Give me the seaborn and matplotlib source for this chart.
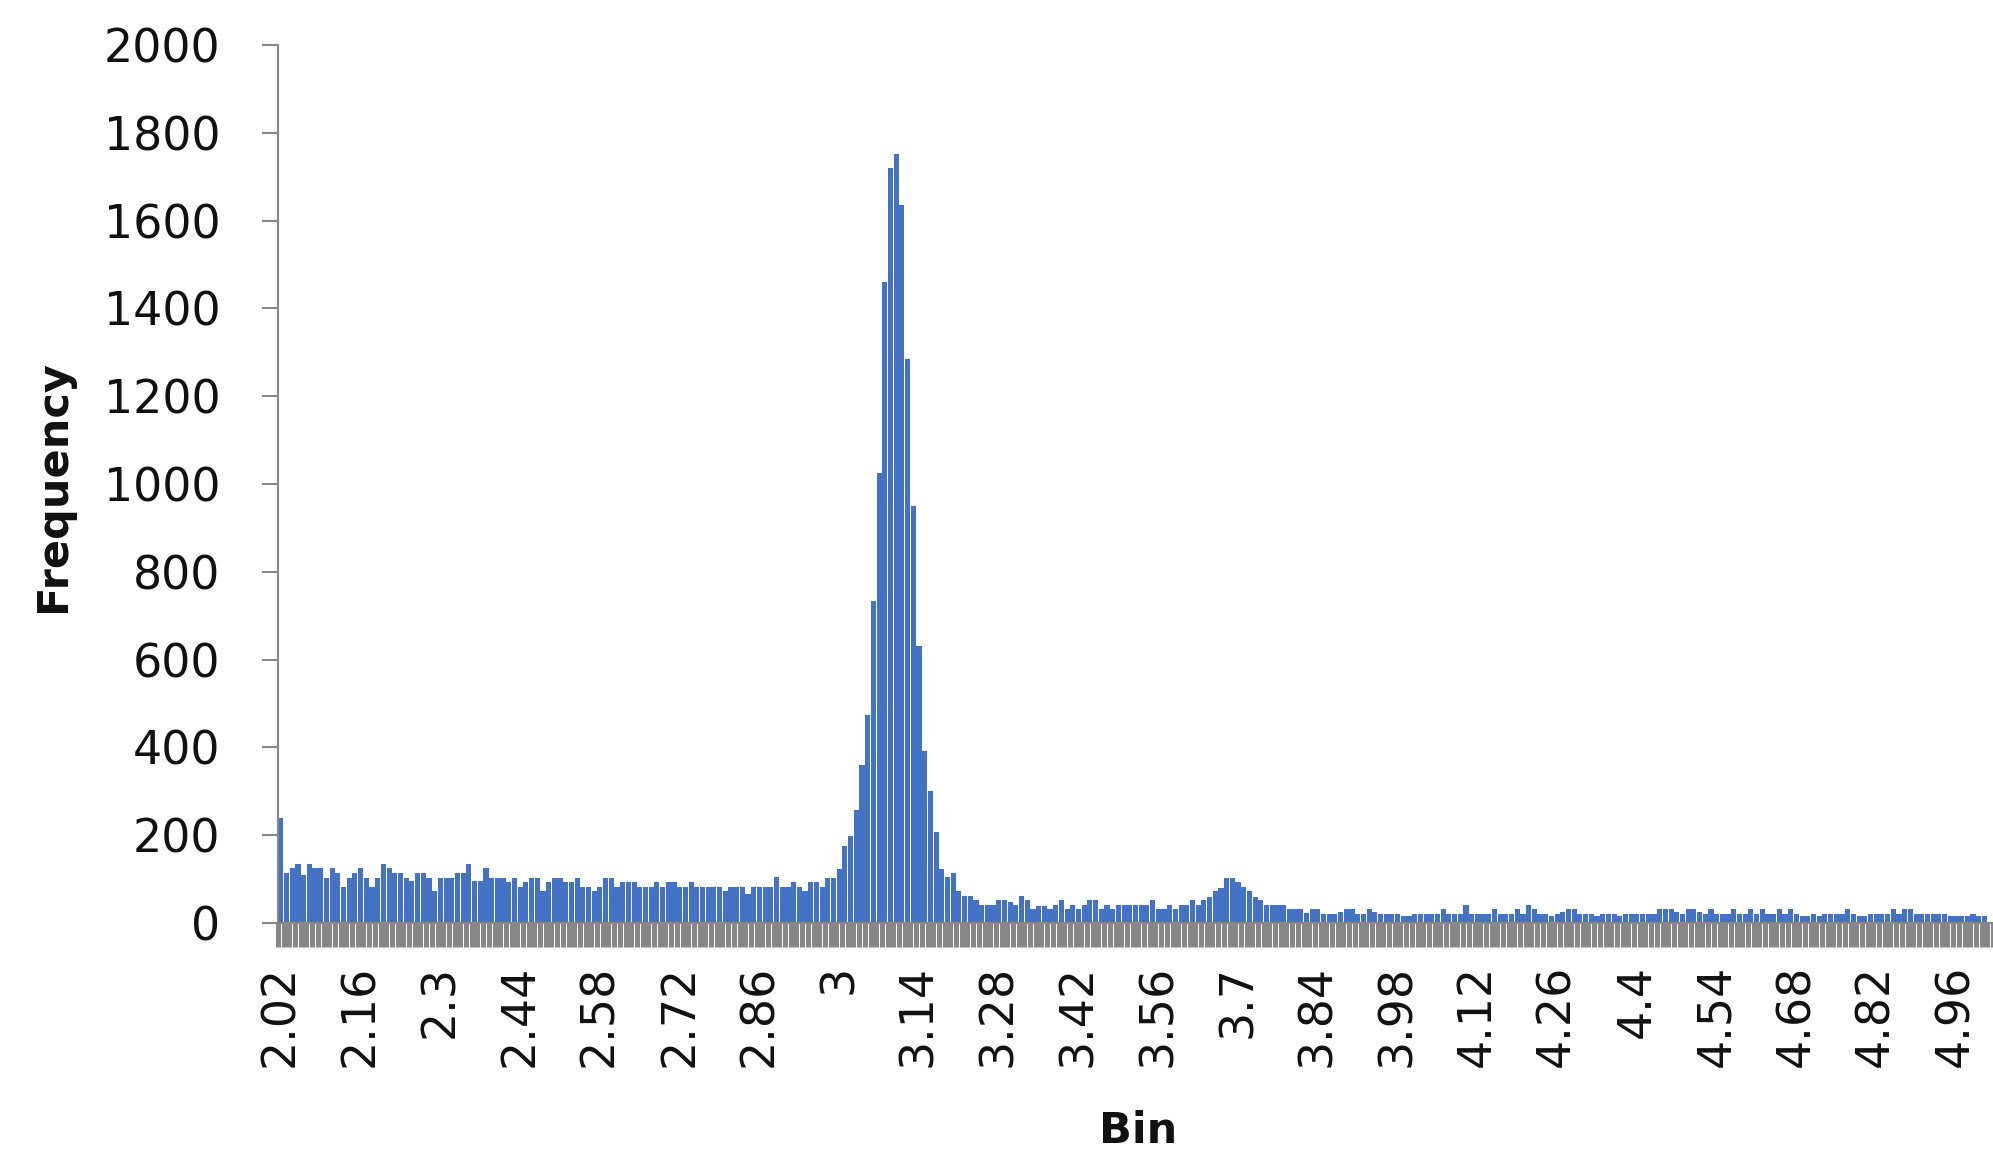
import numpy as np
import pandas as pd
import matplotlib
matplotlib.use("Agg")
import matplotlib.pyplot as plt
import seaborn as sns

# Histogram bins: 2.02 .. 5.02 in steps of 0.01 (one category per bin)
bin_values = np.round(2.02 + 0.01 * np.arange(301), 2)
bin_names = [f"{v:g}" for v in bin_values]

# Frequencies, 14 bins per labelled tick
freq_202 = [240, 115, 125, 135, 110, 135, 125, 125, 103, 125, 115, 82, 103, 115]
freq_216 = [125, 103, 82, 103, 135, 125, 115, 115, 103, 96, 115, 115, 103, 73]
freq_230 = [103, 103, 103, 115, 115, 135, 96, 96, 125, 103, 103, 103, 94, 103]
freq_244 = [82, 94, 103, 103, 73, 94, 103, 103, 94, 94, 103, 82, 82, 73]
freq_258 = [82, 103, 103, 82, 94, 94, 94, 82, 82, 82, 94, 82, 94, 94]
freq_272 = [82, 82, 94, 82, 82, 82, 82, 82, 73, 82, 82, 82, 65, 82]
freq_286 = [82, 82, 82, 104, 82, 82, 94, 82, 73, 94, 94, 82, 103, 103]
freq_300 = [124, 175, 198, 257, 360, 474, 733, 1026, 1460, 1719, 1751, 1636, 1285, 949]
freq_314 = [630, 391, 300, 208, 124, 104, 115, 73, 61, 61, 52, 42, 42, 42]
freq_328 = [52, 52, 47, 42, 61, 52, 31, 39, 39, 31, 42, 52, 31, 42]
freq_342 = [31, 42, 52, 52, 31, 42, 31, 42, 42, 41, 41, 41, 41, 52]
freq_356 = [31, 31, 41, 31, 41, 41, 52, 41, 52, 60, 73, 80, 103, 103]
freq_370 = [94, 82, 73, 60, 52, 41, 41, 41, 41, 31, 31, 31, 22, 31]
freq_384 = [31, 20, 20, 20, 25, 31, 31, 20, 20, 31, 25, 20, 20, 20]
freq_398 = [20, 15, 15, 20, 20, 20, 20, 20, 31, 20, 20, 20, 41, 20]
freq_412 = [20, 20, 20, 31, 20, 20, 20, 31, 20, 41, 31, 20, 20, 15]
freq_426 = [20, 25, 31, 31, 20, 20, 20, 15, 20, 20, 20, 15, 20, 20]
freq_440 = [20, 20, 20, 20, 31, 31, 31, 25, 20, 31, 31, 25, 20, 31]
freq_454 = [20, 20, 20, 31, 20, 20, 31, 20, 31, 20, 20, 31, 20, 31]
freq_468 = [20, 15, 15, 20, 15, 20, 20, 20, 20, 31, 20, 15, 15, 20]
freq_482 = [20, 20, 20, 31, 20, 31, 31, 20, 20, 20, 20, 20, 20, 15]
freq_496 = [15, 15, 15, 20, 15, 15, 0]

frequency = (freq_202 + freq_216 + freq_230 + freq_244 + freq_258 + freq_272
             + freq_286 + freq_300 + freq_314 + freq_328 + freq_342 + freq_356
             + freq_370 + freq_384 + freq_398 + freq_412 + freq_426 + freq_440
             + freq_454 + freq_468 + freq_482 + freq_496)

tick_labels = ["2.02", "2.16", "2.3", "2.44", "2.58", "2.72", "2.86", "3",
               "3.14", "3.28", "3.42", "3.56", "3.7", "3.84", "3.98", "4.12",
               "4.26", "4.4", "4.54", "4.68", "4.82", "4.96"]
y_ticks = [0, 200, 400, 600, 800, 1000, 1200, 1400, 1600, 1800, 2000]

df = pd.DataFrame({"Bin": bin_names, "Frequency": frequency})

sns.set_theme(style="white")
plt.rcParams["font.family"] = ["DejaVu Sans"]

W, H = 1993, 1151
fig = plt.figure(figsize=(W / 100, H / 100), dpi=100)
ax = fig.add_axes([278 / W, 1 - 923 / H, (W - 278) / W, (923 - 45) / H])

bar_blue = "#4472C4"
axis_gray = "#878787"

sns.barplot(data=df, x="Bin", y="Frequency", color=bar_blue, saturation=1,
            width=0.9, errorbar=None, linewidth=0, edgecolor="none", ax=ax)

ax.set_xlim(-0.5, len(bin_names) - 0.5)
ax.set_ylim(0, 2000)

# x axis: dense gray category tick marks, labels every 14 bins
ax.set_xticks(range(0, len(bin_names), 14))
ax.set_xticklabels(tick_labels, rotation=90, fontsize=33, color="#111111")
ax.set_xticks(np.arange(-0.5, len(bin_names), 1), minor=True)
ax.tick_params(axis="x", which="major", length=0, pad=30)
ax.tick_params(axis="x", which="minor", bottom=True, length=17, width=3.6,
               color=axis_gray, direction="out")

# y axis
ax.set_yticks(y_ticks)
ax.set_yticklabels([str(t) for t in y_ticks], fontsize=33, color="#111111")
ax.tick_params(axis="y", which="major", length=11.5, width=1.5,
               color=axis_gray, pad=30, left=True)

for side in ["top", "right"]:
    ax.spines[side].set_visible(False)
ax.spines["left"].set_color(axis_gray)
ax.spines["left"].set_linewidth(1.5)
ax.spines["bottom"].set_color(axis_gray)
ax.spines["bottom"].set_linewidth(1.5)

ax.set_xlabel("")
ax.set_ylabel("")
fig.text(53 / W, 1 - 486 / H, "Frequency", rotation=90, ha="center",
         va="center", fontsize=31, fontweight="bold", color="#111111")
fig.text(1138 / W, 1 - 1131 / H, "Bin", ha="center", va="center",
         fontsize=31, fontweight="bold", color="#111111")

fig.savefig("out.png", dpi=100)
